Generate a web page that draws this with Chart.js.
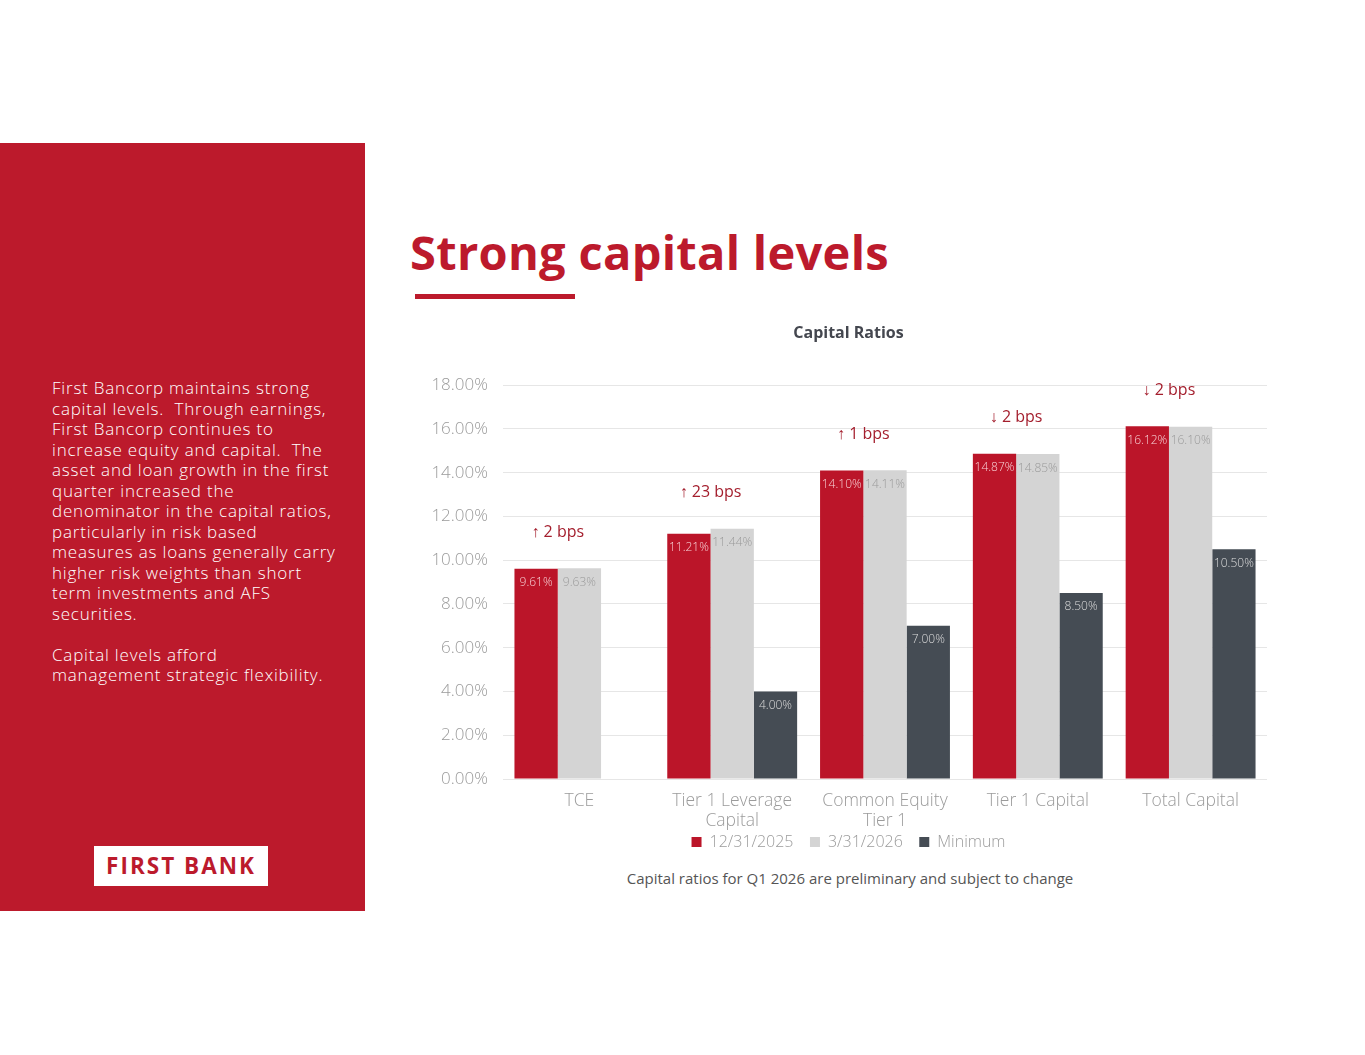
<!DOCTYPE html>
<html lang="en">

<head>
    <meta charset="UTF-8">
    <title>Strong capital levels</title>
    <style>
        body {
            margin: 0;
            width: 1365px;
            height: 1055px;
            background: #fff;
            font-family: "Open Sans", sans-serif;
            position: relative;
            overflow: hidden;
        }

        .side {
            position: absolute;
            left: 0;
            top: 143px;
            width: 365px;
            height: 768px;
            background: #bc1a2c;
        }

        .side-text {
            position: absolute;
            left: 52px;
            top: 235px;
            color: #fff;
            font-size: 17px;
            font-weight: 300;
            letter-spacing: 0.8px;
            line-height: 20.5px;
            white-space: nowrap;
        }

        .logo {
            position: absolute;
            left: 94px;
            top: 703px;
            width: 174px;
            height: 40px;
            background: #fff;
            color: #bc1a2c;
            font-weight: 700;
            font-size: 22.5px;
            letter-spacing: 2px;
            line-height: 40px;
            text-align: center;
        }

        h1 {
            position: absolute;
            left: 410px;
            top: 222px;
            margin: 0;
            color: #bc1a2c;
            font-size: 47px;
            font-weight: 700;
            letter-spacing: 0.3px;
            line-height: 60px;
            white-space: nowrap;
        }

        .rule {
            position: absolute;
            left: 415px;
            top: 294px;
            width: 160px;
            height: 5px;
            background: #bc1a2c;
        }

        #chart {
            position: absolute;
            left: 410px;
            top: 310px;
        }

        .note {
            position: absolute;
            left: 500px;
            width: 700px;
            top: 868px;
            text-align: center;
            font-size: 15px;
            color: #555;
        }
    </style>
    <script src="https://cdn.jsdelivr.net/npm/chart.js"></script>
</head>

<body>
    <div class="side">
        <div class="side-text">
            First Bancorp maintains strong<br>
            capital levels.&nbsp; Through earnings,<br>
            First Bancorp continues to<br>
            increase equity and capital.&nbsp; The<br>
            asset and loan growth in the first<br>
            quarter increased the<br>
            denominator in the capital ratios,<br>
            particularly in risk based<br>
            measures as loans generally carry<br>
            higher risk weights than short<br>
            term investments and AFS<br>
            securities.<br>
            <br>
            Capital levels afford<br>
            management strategic flexibility.
        </div>
        <div class="logo">FIRST BANK</div>
    </div>

    <h1>Strong capital levels</h1>
    <div class="rule"></div>

    <canvas id="chart" width="870" height="550"></canvas>

    <div class="note">Capital ratios for Q1 2026 are preliminary and subject to change</div>

    <script>
        const categories = [['TCE'], ['Tier 1 Leverage', 'Capital'], ['Common Equity', 'Tier 1'], ['Tier 1 Capital'], ['Total Capital']];
        const seriesNames = ['12/31/2025', '3/31/2026', 'Minimum'];
        const dec2025 = [9.61, 11.21, 14.10, 14.87, 16.12];
        const mar2026 = [9.63, 11.44, 14.11, 14.85, 16.10];
        const minimum = [null, 4.00, 7.00, 8.50, 10.50];
        const changeLabels = ['\u2191 2 bps', '\u2191 23 bps', '\u2191 1 bps', '\u2193 2 bps', '\u2193 2 bps'];

        const RED = '#bb1529';
        const GRAY = '#d4d4d4';
        const DARK = '#454c54';
        const TICK = '#9b9b9b';
        const FONT = '"Open Sans", sans-serif';

        // value labels just inside the top of each bar
        const valueLabels = {
            id: 'valueLabels',
            afterDatasetsDraw(chart) {
                const ctx = chart.ctx;
                const colors = ['#f7d0d4', '#9a9a9a', '#dcdcdc'];
                ctx.save();
                ctx.font = '300 12px ' + FONT;
                ctx.textAlign = 'center';
                ctx.textBaseline = 'middle';
                chart.data.datasets.forEach((ds, i) => {
                    chart.getDatasetMeta(i).data.forEach((bar, j) => {
                        const v = ds.data[j];
                        if (v === null) return;
                        ctx.fillStyle = colors[i];
                        ctx.fillText(v.toFixed(2) + '%', bar.x, bar.y + 14);
                    });
                });
                ctx.restore();
            }
        };

        // change in bps above each pair of bars
        const changeNotes = {
            id: 'changeNotes',
            afterDatasetsDraw(chart) {
                const ctx = chart.ctx;
                const a = chart.getDatasetMeta(0).data;
                const b = chart.getDatasetMeta(1).data;
                ctx.save();
                ctx.font = '16px ' + FONT;
                ctx.fillStyle = '#a41e2d';
                ctx.textAlign = 'center';
                ctx.textBaseline = 'middle';
                changeLabels.forEach((txt, j) => {
                    const x = (a[j].x + b[j].x) / 2;
                    const y = Math.min(a[j].y, b[j].y) - 36;
                    ctx.fillText(txt, x, y);
                });
                ctx.restore();
            }
        };

        new Chart(document.getElementById('chart'), {
            type: 'bar',
            data: {
                labels: categories,
                datasets: [
                    { label: seriesNames[0], data: dec2025, backgroundColor: RED },
                    { label: seriesNames[1], data: mar2026, backgroundColor: GRAY },
                    { label: seriesNames[2], data: minimum, backgroundColor: DARK }
                ]
            },
            options: {
                responsive: false,
                animation: false,
                layout: { padding: { left: 20, right: 13, top: 0, bottom: 0 } },
                datasets: {
                    bar: { categoryPercentage: 0.85, barPercentage: 1.0 }
                },
                scales: {
                    x: {
                        afterFit(axis) { axis.height = 51; },
                        grid: { display: false, drawTicks: false },
                        border: { display: false },
                        ticks: {
                            color: TICK,
                            padding: 12,
                            maxRotation: 0,
                            font: { family: FONT, size: 17.5, weight: 300, lineHeight: 1.15 }
                        }
                    },
                    y: {
                        min: 0,
                        max: 18,
                        afterFit(axis) { axis.width = 73; },
                        grid: { color: '#e6e6e6', drawTicks: false },
                        border: { display: false },
                        ticks: {
                            stepSize: 2,
                            color: TICK,
                            padding: 15,
                            font: { family: FONT, size: 17, weight: 300 },
                            callback: v => v.toFixed(2) + '%'
                        }
                    }
                },
                plugins: {
                    title: {
                        display: true,
                        text: 'Capital Ratios',
                        color: '#44474f',
                        font: { family: FONT, size: 16, weight: 'bold' },
                        padding: { top: 14, bottom: 42 }
                    },
                    legend: {
                        position: 'bottom',
                        labels: {
                            boxWidth: 10,
                            boxHeight: 10,
                            padding: 4,
                            color: TICK,
                            font: { family: FONT, size: 16, weight: 300, lineHeight: 1.0 },
                            generateLabels(chart) {
                                const items = Chart.defaults.plugins.legend.labels.generateLabels(chart);
                                items.forEach((it, i) => {
                                    if (i < items.length - 1) it.text += '\u00a0\u00a0\u00a0';
                                });
                                return items;
                            }
                        }
                    },
                    tooltip: { enabled: false }
                }
            },
            plugins: [valueLabels, changeNotes]
        });
    </script>
</body>

</html>
